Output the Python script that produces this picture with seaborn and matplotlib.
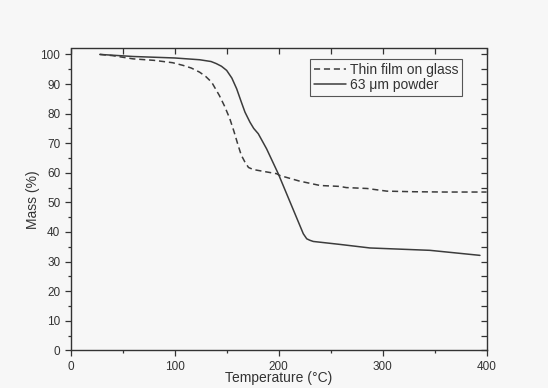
import matplotlib
matplotlib.use("Agg")
import matplotlib.pyplot as plt
import seaborn as sns
import pandas as pd
from matplotlib.ticker import MultipleLocator, NullFormatter

# Data
film_temp = [28, 40, 60, 80, 98, 108, 116, 124, 130, 135.6, 143, 148, 153,
             157, 161, 164, 167.6, 171, 175.6, 185, 198, 201, 220, 240, 259,
             265, 285, 304, 330, 360, 400]
film_mass = [100, 99.6, 98.5, 98, 97.2, 96.3, 95.4, 94, 92.5, 90.6, 86.1,
             82.5, 78.3, 74, 69.3, 66, 63.6, 61.8, 61.1, 60.5, 59.7, 59.1,
             57.2, 55.7, 55.4, 55, 54.7, 53.8, 53.6, 53.5, 53.5]

powder_temp = [28, 60, 100, 124, 135, 140, 145, 150, 155, 159.6, 164, 167.6,
               172.4, 176, 180.4, 188.4, 199.6, 223.7, 227, 230, 233.3, 259,
               287.8, 345.5, 393.6]
powder_mass = [100, 99.3, 98.8, 98.2, 97.6, 96.9, 96, 94.6, 92, 88.4, 84,
               80.5, 77.1, 75, 73.2, 68.1, 59.7, 39.4, 37.7, 37.2, 36.8, 35.8,
               34.6, 33.8, 32.1]

series_labels = ["Thin film on glass", "63 \u03bcm powder"]
x_label = "Temperature (\u00b0C)"
y_label = "Mass (%)"

sns.set_theme(style="ticks")
plt.rcParams["font.family"] = ["Liberation Sans", "DejaVu Sans"]
plt.rcParams["text.color"] = "#333333"
plt.rcParams["axes.labelcolor"] = "#333333"
plt.rcParams["xtick.color"] = "#333333"
plt.rcParams["ytick.color"] = "#333333"

bg = "#f7f7f7"
line_c = "#3c3c3c"
ink = "#333333"

fig = plt.figure(figsize=(5.48, 3.88), dpi=100, facecolor=bg)
ax = fig.add_axes([0.129, 0.097, 0.759, 0.778])
ax.set_facecolor(bg)

df_film = pd.DataFrame({"T": film_temp, "M": film_mass})
df_powder = pd.DataFrame({"T": powder_temp, "M": powder_mass})

sns.lineplot(data=df_film, x="T", y="M", ax=ax, color=line_c, lw=1.1,
             linestyle=(0, (4, 2.5)), label=series_labels[0], sort=False)
sns.lineplot(data=df_powder, x="T", y="M", ax=ax, color=line_c, lw=1.1,
             linestyle="-", label=series_labels[1], sort=False)

ax.set_xlim(0, 400)
ax.set_ylim(0, 102)
ax.xaxis.set_major_locator(MultipleLocator(100))
ax.xaxis.set_minor_locator(MultipleLocator(50))
ax.yaxis.set_major_locator(MultipleLocator(10))
ax.yaxis.set_minor_locator(MultipleLocator(5))

# bottom / left ticks point outward
ax.tick_params(which="both", direction="out", top=False, right=False,
               labelsize=8.5, width=0.9, colors=ink, pad=3)
ax.tick_params(which="major", length=4.5)
ax.tick_params(which="minor", length=2.5)

for name in ("left", "bottom"):
    ax.spines[name].set_visible(True)
    ax.spines[name].set_color(ink)
    ax.spines[name].set_linewidth(1.0)
for name in ("top", "right"):
    ax.spines[name].set_visible(False)

# top / right mirrored ticks point inward
sec_x = ax.secondary_xaxis("top")
sec_x.xaxis.set_major_locator(MultipleLocator(100))
sec_x.xaxis.set_minor_locator(MultipleLocator(50))
sec_x.xaxis.set_major_formatter(NullFormatter())
sec_x.tick_params(which="both", direction="in", width=0.9, colors=ink,
                  length=4.5)
sec_x.spines["top"].set_visible(True)
sec_x.spines["top"].set_color(ink)
sec_x.spines["top"].set_linewidth(1.0)

sec_y = ax.secondary_yaxis("right")
sec_y.yaxis.set_major_locator(MultipleLocator(10))
sec_y.yaxis.set_minor_locator(MultipleLocator(5))
sec_y.yaxis.set_major_formatter(NullFormatter())
sec_y.tick_params(which="both", direction="in", width=0.9, colors=ink,
                  length=4.5)
sec_y.spines["right"].set_visible(True)
sec_y.spines["right"].set_color(ink)
sec_y.spines["right"].set_linewidth(1.0)

ax.set_xlabel(x_label, fontsize=10, labelpad=-1)
ax.set_ylabel(y_label, fontsize=10, labelpad=0)

leg = ax.legend(loc="upper right", bbox_to_anchor=(0.94, 0.964),
                borderaxespad=0, fontsize=10, frameon=True, fancybox=False,
                framealpha=1, facecolor=bg, edgecolor="#555555",
                handlelength=2.3, handletextpad=0.3, labelspacing=0.1,
                borderpad=0.25)
leg.get_frame().set_linewidth(0.8)

fig.savefig("out.png", dpi=100, facecolor=bg)
